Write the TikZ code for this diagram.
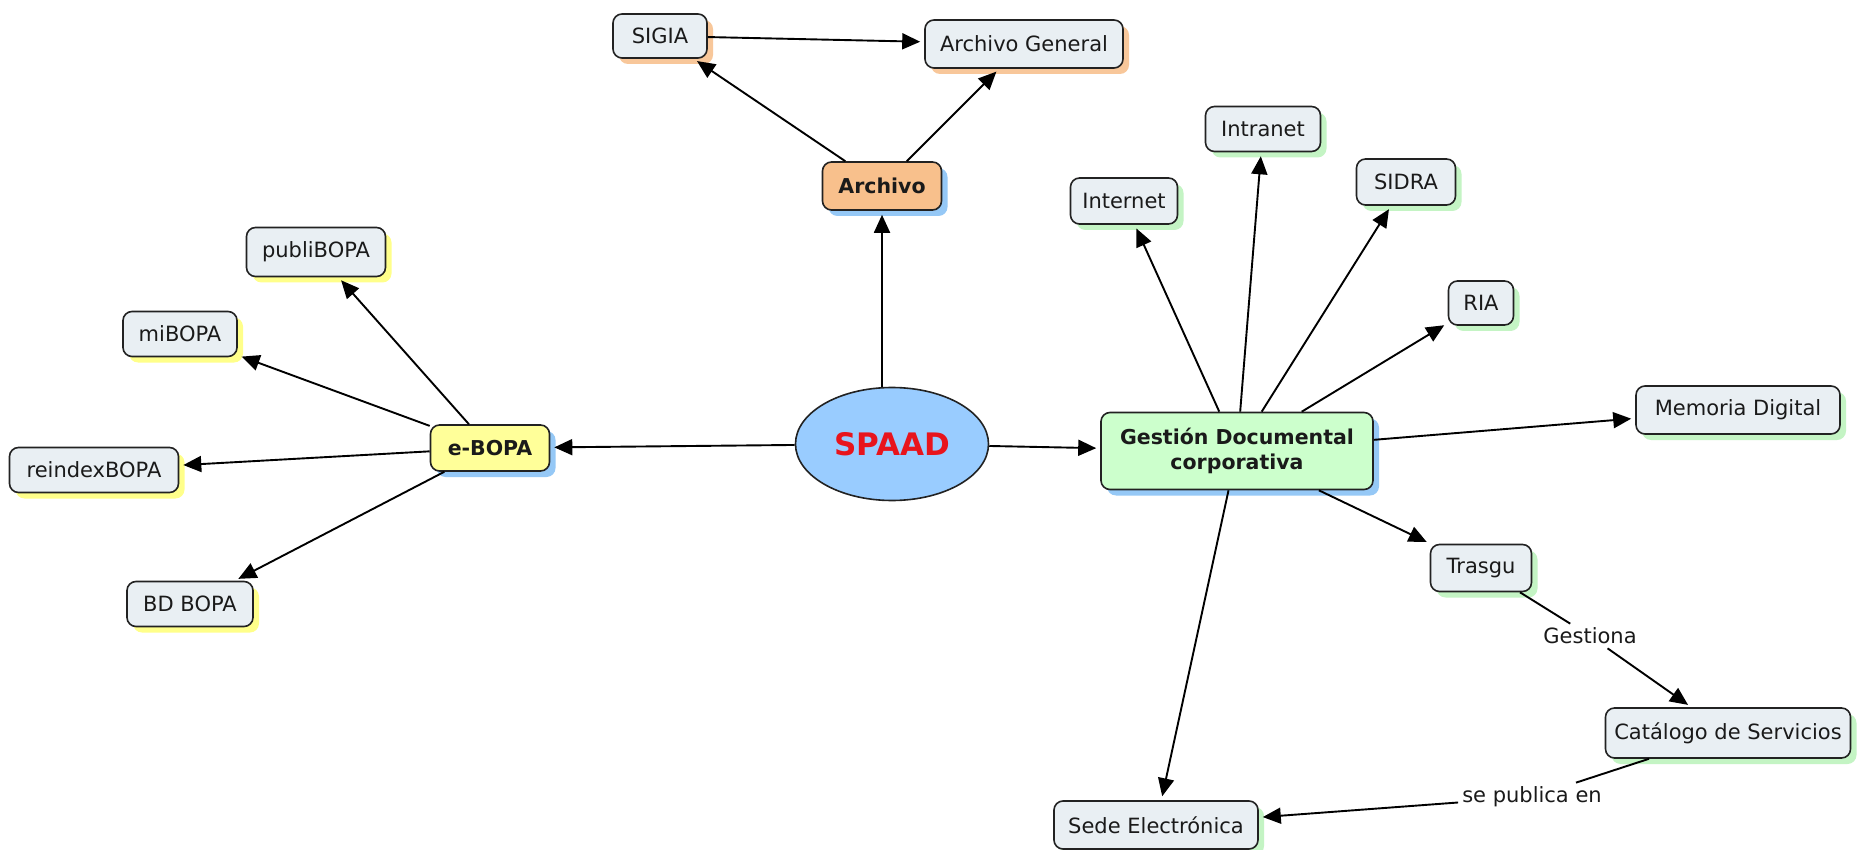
\documentclass[tikz,border=0pt]{standalone}
\usepackage{fontspec}
\setmainfont{DejaVu Sans}
\usetikzlibrary{arrows.meta,shapes.geometric,shadows}
\definecolor{leafcol}{HTML}{E9EFF3}
\definecolor{bordercol}{HTML}{222222}
\definecolor{txtcol}{HTML}{1A1A1A}
\definecolor{shorange}{HTML}{F8C79A}
\definecolor{shyellow}{HTML}{FFFF8A}
\definecolor{shgreen}{HTML}{C4F4C4}
\definecolor{shblue}{HTML}{95C8F6}
\definecolor{archfill}{HTML}{F8C08C}
\definecolor{ebopafill}{HTML}{FFFF99}
\definecolor{gestfill}{HTML}{CCFFCC}
\definecolor{spaadfill}{HTML}{99CCFF}
\definecolor{spaadtxt}{HTML}{E8141C}
\begin{document}
\begin{tikzpicture}[x=1pt,y=-1pt,
  box/.style={draw=bordercol, line width=1.6pt, rounded corners=9pt, fill=leafcol,
    text=txtcol, font=\fontsize{21}{25}\selectfont, inner sep=0pt, align=center},
  hub/.style={box, font=\bfseries\fontsize{20.5}{25}\selectfont},
  shor/.style={drop shadow={shadow xshift=6pt,shadow yshift=-6pt,fill=shorange,opacity=1}},
  shye/.style={drop shadow={shadow xshift=6pt,shadow yshift=-6pt,fill=shyellow,opacity=1}},
  shgr/.style={drop shadow={shadow xshift=6pt,shadow yshift=-6pt,fill=shgreen,opacity=1}},
  shbl/.style={drop shadow={shadow xshift=6pt,shadow yshift=-6pt,fill=shblue,opacity=1}},
  lbl/.style={text=txtcol, font=\fontsize{21}{25}\selectfont, inner sep=4pt},
  link/.style={line width=1.9pt, draw=black},
  arr/.style={link, -{Triangle[length=18pt,width=16pt]}, shorten >=4pt},
]
\useasboundingbox (0,0) rectangle (1861,850);
\fill[white] (0,0) rectangle (1861,850);

% central
\node[ellipse, draw=bordercol, line width=1.6pt, fill=spaadfill, minimum width=193pt,
  minimum height=113pt, inner sep=0pt, text=spaadtxt,
  font=\bfseries\fontsize{31}{34}\selectfont] (spaad) at (892,444) {SPAAD};

% archivo branch
\node[hub, shbl, fill=archfill, minimum width=119pt, minimum height=48pt] (archivo) at (882,186) {Archivo};
\node[box, shor, minimum width=94pt, minimum height=44pt] (sigia) at (660,36) {SIGIA};
\node[box, shor, minimum width=198pt, minimum height=48pt] (archgen) at (1024,44) {Archivo General};

% e-BOPA branch
\node[hub, shbl, fill=ebopafill, minimum width=119pt, minimum height=46pt] (ebopa) at (490,448) {e-BOPA};
\node[box, shye, minimum width=139pt, minimum height=49pt] (publi) at (316,252) {publiBOPA};
\node[box, shye, minimum width=114pt, minimum height=45pt] (mibopa) at (180,334) {miBOPA};
\node[box, shye, minimum width=169pt, minimum height=45pt] (reindex) at (94,470) {reindexBOPA};
\node[box, shye, minimum width=126pt, minimum height=45pt] (bdbopa) at (190,604) {BD BOPA};

% gestion branch
\node[hub, shbl, fill=gestfill, minimum width=272pt, minimum height=77pt] (gestion) at (1237,451) {Gestión Documental\\corporativa};
\node[box, shgr, minimum width=107pt, minimum height=46pt] (internet) at (1124,201) {Internet};
\node[box, shgr, minimum width=115pt, minimum height=45pt] (intranet) at (1263,129) {Intranet};
\node[box, shgr, minimum width=99pt, minimum height=46pt] (sidra) at (1406,182) {SIDRA};
\node[box, shgr, minimum width=65pt, minimum height=44pt] (ria) at (1481,303) {RIA};
\node[box, shgr, minimum width=204pt, minimum height=48pt] (memoria) at (1738,410) {Memoria Digital};
\node[box, shgr, minimum width=101pt, minimum height=47pt] (trasgu) at (1481,568) {Trasgu};
\node[box, shgr, minimum width=245pt, minimum height=50pt] (catalogo) at (1728,733) {Catálogo de Servicios};
\node[box, shgr, minimum width=204pt, minimum height=48pt] (sede) at (1156,825) {Sede Electrónica};

% link labels
\node[lbl] (gestiona) at (1590,636) {Gestiona};
\node[lbl] (sepublica) at (1532,797) {se publica en};

% connectors
\draw[arr] (archivo |- spaad.north) -- (archivo);
\draw[arr] (spaad) -- (ebopa);
\draw[arr] (spaad) -- (gestion);
\draw[arr] (archivo) -- (sigia);
\draw[arr] (archivo) -- (archgen);
\draw[arr] (sigia) -- (archgen);
\draw[arr] (ebopa) -- (publi);
\draw[arr] (ebopa) -- (mibopa);
\draw[arr] (ebopa) -- (reindex);
\draw[arr] (ebopa) -- (bdbopa);
\draw[arr] (gestion) -- (internet);
\draw[arr] (gestion) -- (intranet);
\draw[arr] (gestion) -- (sidra);
\draw[arr] (gestion) -- (ria);
\draw[arr] (gestion) -- (memoria);
\draw[arr] (gestion) -- (trasgu);
\draw[arr] (gestion) -- (sede);
\draw[link] (trasgu) -- (gestiona);
\draw[arr] (gestiona) -- (catalogo);
\draw[link] (catalogo) -- (sepublica);
\draw[arr] (sepublica) -- (sede);
\end{tikzpicture}
\end{document}
